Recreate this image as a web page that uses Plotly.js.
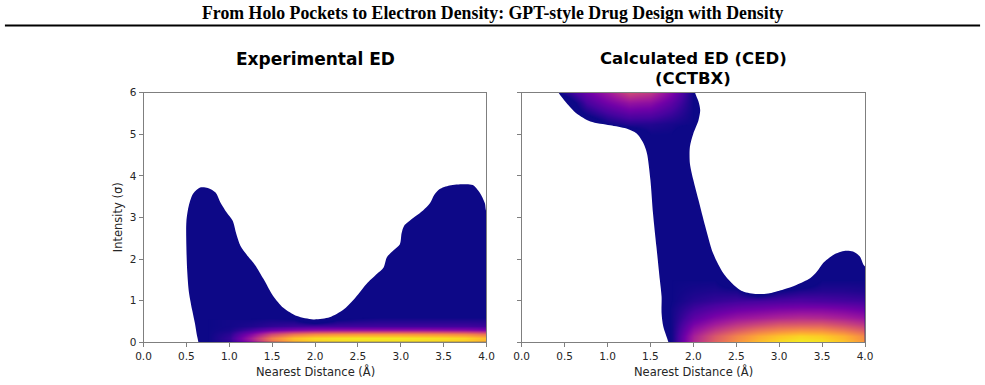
<!DOCTYPE html>
<html>
<head>
<meta charset="utf-8">
<script src="https://cdn.plot.ly/plotly-3.0.1.min.js"></script>
<style>
  html, body { margin: 0; padding: 0; background: #ffffff; }
  #chart { width: 985px; height: 385px; }
</style>
</head>
<body>
<div id="chart"></div>
<script>
// ---- Experimental ED: outline of the density region (Nearest Distance, Intensity)
const expBoundaryX = [0.66, 0.64, 0.62, 0.60, 0.57, 0.53, 0.51, 0.50, 0.50, 0.53, 0.58, 0.66, 0.75, 0.84, 0.90,
  0.97, 1.04, 1.08, 1.13, 1.22, 1.30, 1.40, 1.51, 1.63, 1.79, 1.98, 2.17, 2.33, 2.45, 2.60, 2.72, 2.80, 2.84,
  2.92, 2.99, 3.01, 3.04, 3.14, 3.26, 3.34, 3.39, 3.45, 3.57, 3.73, 3.84, 3.92, 3.98, 4.01, 4.30, 4.30];
const expBoundaryY = [-0.30, 0.00, 0.20, 0.45, 0.75, 1.20, 1.70, 2.30, 2.90, 3.30, 3.58, 3.72, 3.71, 3.60, 3.35,
  3.12, 2.92, 2.62, 2.32, 2.06, 1.86, 1.52, 1.12, 0.83, 0.63, 0.55, 0.60, 0.78, 1.02, 1.40, 1.64, 1.80, 2.05,
  2.22, 2.36, 2.62, 2.80, 2.98, 3.17, 3.34, 3.54, 3.68, 3.77, 3.80, 3.78, 3.60, 3.35, 3.10, 3.00, -0.30];

// ---- Calculated ED (CCTBX): outline of the density region
const cedBoundaryX = [0.35, 0.43, 0.52, 0.64, 0.80, 1.03, 1.22, 1.34, 1.42, 1.46, 1.50, 1.53, 1.57, 1.61, 1.63,
  1.63, 1.65, 1.71, 1.74, 4.30, 4.30, 4.00, 3.94, 3.86, 3.77, 3.63, 3.51, 3.44, 3.36, 3.20, 3.05, 2.89, 2.74,
  2.58, 2.47, 2.35, 2.23, 2.14, 2.06, 2.00, 1.96, 1.96, 2.00, 2.06, 2.08, 2.06, 2.02, 2.00];
const cedBoundaryY = [6.30, 6.00, 5.76, 5.50, 5.31, 5.22, 5.14, 5.02, 4.78, 4.54, 3.90, 3.10, 2.30, 1.50, 1.10,
  0.70, 0.38, 0.00, -0.30, -0.30, 1.75, 1.82, 2.06, 2.18, 2.20, 2.10, 1.90, 1.70, 1.54, 1.38, 1.27, 1.18, 1.16,
  1.22, 1.38, 1.66, 2.14, 2.78, 3.42, 3.90, 4.30, 4.70, 5.02, 5.34, 5.58, 5.79, 6.00, 6.30];

// ---- Point density (relative, 0..1) in the dense parts of each panel
const expGridX = [0.5, 0.75, 1.0, 1.25, 1.5, 1.75, 2.0, 2.25, 2.5, 2.75, 3.0, 3.25, 3.5, 3.75, 4.0];
const expGridY = [0, 0.1, 0.2, 0.3, 0.4, 0.55, 0.8];
const expGridZ = [
  [0, 0.10, 0.16, 0.40, 0.70, 0.85, 0.91, 0.93, 0.94, 0.94, 0.94, 0.93, 0.92, 0.90, 0.84],
  [0, 0.10, 0.17, 0.42, 0.72, 0.88, 0.94, 0.96, 0.97, 0.97, 0.97, 0.96, 0.95, 0.93, 0.86],
  [0, 0.10, 0.15, 0.33, 0.55, 0.68, 0.74, 0.76, 0.77, 0.77, 0.77, 0.76, 0.75, 0.73, 0.67],
  [0, 0.10, 0.12, 0.20, 0.29, 0.34, 0.37, 0.38, 0.38, 0.38, 0.38, 0.38, 0.37, 0.36, 0.33],
  [0, 0.10, 0.11, 0.13, 0.16, 0.18, 0.19, 0.19, 0.19, 0.19, 0.19, 0.19, 0.19, 0.19, 0.18],
  [0, 0.10, 0.11, 0.11, 0.12, 0.11, 0.00, 0.10, 0.12, 0.13, 0.13, 0.13, 0.13, 0.13, 0.13],
  [0, 0, 0, 0, 0, 0, 0, 0, 0, 0, 0, 0, 0, 0, 0]
];

const cedLowGridX = [1.5, 1.75, 2.0, 2.25, 2.5, 2.75, 3.0, 3.25, 3.5, 3.75, 4.0];
const cedLowGridY = [0, 0.15, 0.3, 0.45, 0.6, 0.8, 1.0, 1.25, 1.5];
const cedLowGridZ = [
  [0, 0.11, 0.46, 0.64, 0.775, 0.874, 0.946, 0.982, 0.964, 0.892, 0.784],
  [0, 0.11, 0.43, 0.60, 0.73, 0.82, 0.88, 0.92, 0.90, 0.84, 0.74],
  [0, 0.11, 0.37, 0.50, 0.60, 0.68, 0.73, 0.76, 0.75, 0.69, 0.61],
  [0, 0.11, 0.31, 0.41, 0.49, 0.54, 0.59, 0.60, 0.60, 0.55, 0.49],
  [0, 0.11, 0.25, 0.33, 0.39, 0.42, 0.45, 0.47, 0.46, 0.43, 0.39],
  [0, 0.11, 0.19, 0.24, 0.28, 0.30, 0.32, 0.33, 0.33, 0.31, 0.28],
  [0, 0.10, 0.145, 0.17, 0.19, 0.20, 0.21, 0.22, 0.21, 0.20, 0.19],
  [0, 0.10, 0.12, 0.13, 0.12, 0.00, 0.10, 0.13, 0.14, 0.14, 0.13],
  [0, 0.10, 0.10, 0.10, 0.00, 0.00, 0.00, 0.00, 0.10, 0.10, 0.10]
];

const cedTopGridX = [0.25, 0.5, 0.75, 1.0, 1.25, 1.5, 1.75, 2.0, 2.25];
const cedTopGridY = [5.0, 5.25, 5.5, 5.75, 6.0];
const cedTopGridZ = [
  [0, 0, 0, 0, 0.00, 0.10, 0.10, 0.00, 0],
  [0, 0, 0, 0.10, 0.14, 0.14, 0.12, 0.10, 0],
  [0, 0, 0.11, 0.19, 0.25, 0.24, 0.18, 0.10, 0],
  [0, 0, 0.20, 0.30, 0.38, 0.36, 0.25, 0.10, 0],
  [0, 0.13, 0.28, 0.40, 0.55, 0.50, 0.33, 0.10, 0]
];

// ---- tick labels
const xTickVals = [0, 0.5, 1, 1.5, 2, 2.5, 3, 3.5, 4];
const xTickText = ['0.0', '0.5', '1.0', '1.5', '2.0', '2.5', '3.0', '3.5', '4.0'];
const yTickVals = [0, 1, 2, 3, 4, 5, 6];
const yTickText = ['0', '1', '2', '3', '4', '5', '6'];

// plasma colours; the lowest tenth of the range is left transparent so the
// solid outline underneath shows through
const NAVY = '#0d0887';
const densityScale = [
  [0, 'rgba(13,8,135,0)'], [0.1, 'rgba(13,8,135,0)'], [0.1001, '#0d0887'],
  [0.2, '#46039f'], [0.3, '#7201a8'], [0.4, '#9c179e'], [0.5, '#bd3786'],
  [0.6, '#d8576b'], [0.7, '#ed7953'], [0.8, '#fb9f3a'], [0.9, '#fdca26'], [1.0, '#f0f921']
];

function outline(xs, ys, xa, ya) {
  return {
    type: 'scatter', mode: 'lines', x: xs, y: ys, xaxis: xa, yaxis: ya,
    fill: 'toself', fillcolor: NAVY,
    line: { color: NAVY, width: 0, shape: 'spline', smoothing: 0.8 },
    hoverinfo: 'skip', showlegend: false
  };
}
function density(xs, ys, zs, xa, ya) {
  return {
    type: 'heatmap', x: xs, y: ys, z: zs, xaxis: xa, yaxis: ya,
    zsmooth: 'best', zmin: 0, zmax: 1, colorscale: densityScale,
    showscale: false, hoverinfo: 'skip'
  };
}

const data = [
  outline(expBoundaryX, expBoundaryY, 'x', 'y'),
  outline(cedBoundaryX, cedBoundaryY, 'x2', 'y2'),
  density(expGridX, expGridY, expGridZ, 'x', 'y3'),
  density(cedLowGridX, cedLowGridY, cedLowGridZ, 'x2', 'y4'),
  density(cedTopGridX, cedTopGridY, cedTopGridZ, 'x2', 'y4')
];

const FONT = 'DejaVu Sans, sans-serif';
const axisCommon = {
  showgrid: false, zeroline: false, showline: true, mirror: true,
  linecolor: '#7f7f7f', linewidth: 1, ticks: 'outside', ticklen: 4, tickwidth: 1,
  tickcolor: '#7f7f7f', tickfont: { family: FONT, size: 10.5, color: '#262626' }
};
const yDomain = [0.1109, 0.7592];

const layout = {
  width: 985, height: 385,
  margin: { l: 0, r: 0, t: 0, b: 0 },
  paper_bgcolor: '#ffffff', plot_bgcolor: '#ffffff',
  showlegend: false,
  xaxis: Object.assign({}, axisCommon, { domain: [0.1457, 0.4939], range: [0, 4], anchor: 'y',
    tickvals: xTickVals, ticktext: xTickText }),
  yaxis: Object.assign({}, axisCommon, { domain: yDomain, range: [0, 6], anchor: 'x',
    tickvals: yTickVals, ticktext: yTickText }),
  xaxis2: Object.assign({}, axisCommon, { domain: [0.5296, 0.8782], range: [0, 4], anchor: 'y2',
    tickvals: xTickVals, ticktext: xTickText }),
  yaxis2: Object.assign({}, axisCommon, { domain: yDomain, range: [0, 6], anchor: 'x2',
    tickvals: yTickVals, ticktext: yTickText, showticklabels: false }),
  yaxis3: { overlaying: 'y', range: [0, 6], visible: false, anchor: 'x' },
  yaxis4: { overlaying: 'y2', range: [0, 6], visible: false, anchor: 'x2' },
  shapes: [
    { type: 'line', xref: 'paper', yref: 'paper', x0: 0.005, x1: 0.995, y0: 0.9338, y1: 0.9338,
      line: { color: '#000000', width: 2 } }
  ],
  annotations: [
    { text: '<b>From Holo Pockets to Electron Density: GPT-style Drug Design with Density</b>',
      xref: 'paper', yref: 'paper', x: 0.5, y: 0.966, xanchor: 'center', yanchor: 'middle',
      showarrow: false, font: { family: 'Liberation Serif, Times New Roman, serif', size: 17.8, color: '#000' } },
    { text: '<b>Experimental ED</b>', xref: 'paper', yref: 'paper', x: 0.3198, y: 0.8455,
      xanchor: 'center', yanchor: 'middle', showarrow: false,
      font: { family: FONT, size: 17, color: '#000' } },
    { text: '<b>Calculated ED (CED)</b>', xref: 'paper', yref: 'paper', x: 0.7039, y: 0.8481,
      xanchor: 'center', yanchor: 'middle', showarrow: false,
      font: { family: FONT, size: 16.5, color: '#000' } },
    { text: '<b>(CCTBX)</b>', xref: 'paper', yref: 'paper', x: 0.7039, y: 0.7955,
      xanchor: 'center', yanchor: 'middle', showarrow: false,
      font: { family: FONT, size: 16.5, color: '#000' } },
    { text: 'Nearest Distance (Å)', xref: 'paper', yref: 'paper', x: 0.3198, y: 0.034,
      xanchor: 'center', yanchor: 'middle', showarrow: false,
      font: { family: FONT, size: 11.5, color: '#262626' } },
    { text: 'Nearest Distance (Å)', xref: 'paper', yref: 'paper', x: 0.7039, y: 0.034,
      xanchor: 'center', yanchor: 'middle', showarrow: false,
      font: { family: FONT, size: 11.5, color: '#262626' } },
    { text: 'Intensity (σ)', xref: 'paper', yref: 'paper', x: 0.1195, y: 0.435,
      xanchor: 'center', yanchor: 'middle', showarrow: false, textangle: -90,
      font: { family: FONT, size: 11.5, color: '#262626' } }
  ]
};

Plotly.newPlot('chart', data, layout, { displayModeBar: false, staticPlot: true });
</script>
</body>
</html>
